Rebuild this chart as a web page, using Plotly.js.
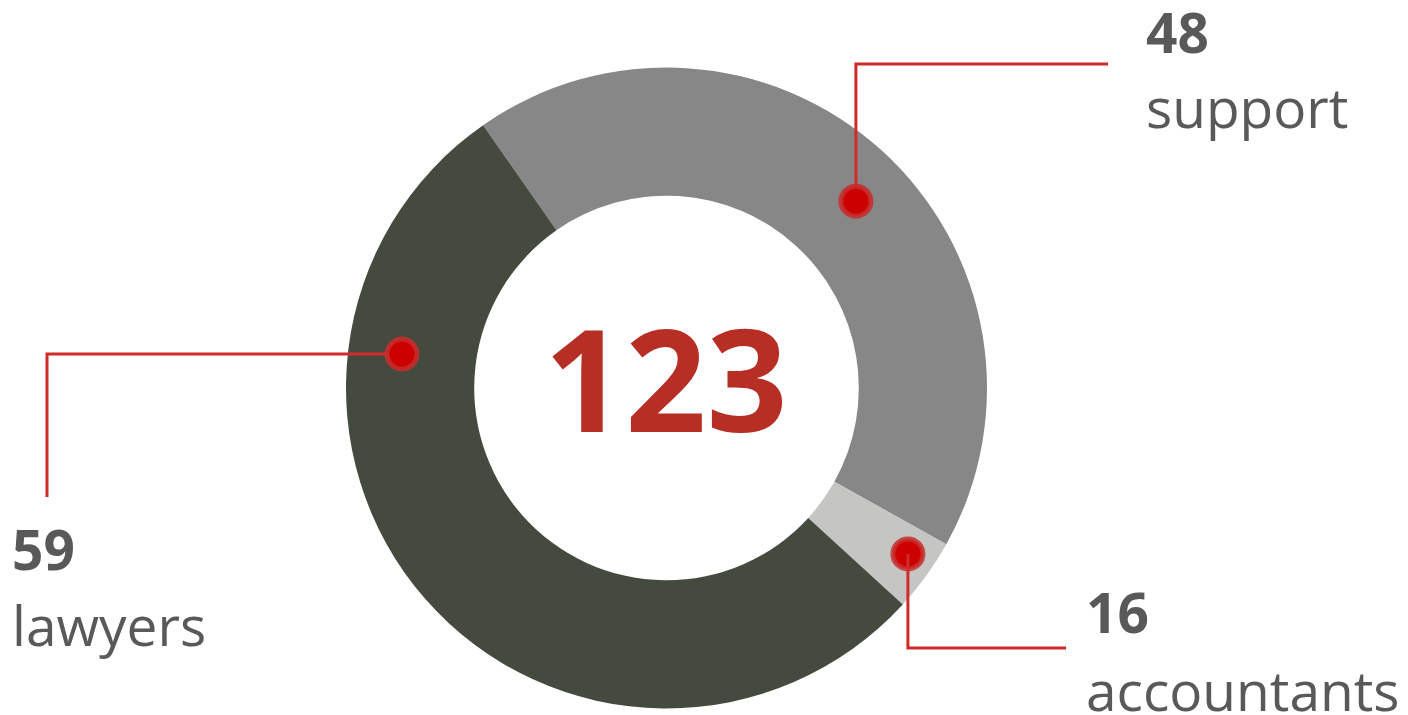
<!DOCTYPE html>
<html><head><meta charset="utf-8">
<script src="https://cdn.plot.ly/plotly-3.0.1.min.js"></script>
<style>html,body{margin:0;padding:0;background:#fff;}#chart{width:1408px;height:715px;}</style>
</head><body><div id="chart"></div>
<script>
// ---- data ----
const categories = ['support', 'accountants', 'lawyers'];
const counts = [48, 16, 59];
// slice sizes as drawn in the picture (percent of the ring)
const sliceShares = [42.8, 3.7, 53.5];
const totalLabel = '123';

// ---- styling / geometry ----
const sliceColors = ['#878787', '#c5c5c3', '#454a3f'];
const W = 1408, H = 715;
const cx = 666.5, cy = 388, R = 320.5;
const holeFrac = 0.6;
const startAngle = -34.9;

// callout dots: angle clockwise from 12 o'clock, radius as a fraction of outer radius
const calloutAngle = [45.4, 124.5, 277.3];
const calloutRadius = [0.83, 0.914, 0.832];
// leader path: first leg direction, first leg target, second leg target
const calloutLeg = [['v', 64, 1108], ['v', 648, 1066], ['h', 47, 497]];
// text block: left x, number baseline, label baseline
const textX = [1148, 1088, 14];
const numBase = [53, 633, 570];
const labBase = [128, 711, 646];

const FONT = 'Open Sans, Noto Sans, sans-serif';
const TXT = '#595959';
const RED = '#d12a2a';
const FS = 55;

const px = x => x / W;
const py = y => 1 - y / H;

const shapes = [];
const annotations = [];

categories.forEach((c, i) => {
  const a = calloutAngle[i] * Math.PI / 180;
  const r = calloutRadius[i] * R;
  const dx = cx + r * Math.sin(a), dy = cy - r * Math.cos(a);
  const leg = calloutLeg[i];
  let p1, p2;
  if (leg[0] === 'v') { p1 = [dx, leg[1]]; p2 = [leg[2], leg[1]]; }
  else { p1 = [leg[1], dy]; p2 = [leg[1], leg[2]]; }
  const path = `M${px(dx)},${py(dy)} L${px(p1[0])},${py(p1[1])} L${px(p2[0])},${py(p2[1])}`;
  const lineShape = {type: 'path', xref: 'paper', yref: 'paper', path: path,
    line: {color: RED, width: 3}, layer: 'above'};
  const circ = {type: 'circle', xref: 'paper', yref: 'paper', xsizemode: 'pixel', ysizemode: 'pixel',
    xanchor: px(dx), yanchor: py(dy), x0: -15, x1: 15, y0: -15, y1: 15,
    fillcolor: '#cc0000', line: {color: 'rgba(200,45,45,0.85)', width: 5}, layer: 'above'};
  if (i === 1) { shapes.push(circ, lineShape); } else { shapes.push(lineShape, circ); }

  annotations.push({xref: 'paper', yref: 'paper', x: px(textX[i] - 4), y: py(numBase[i] - 0.388 * FS),
    xanchor: 'left', yanchor: 'middle', showarrow: false, text: '<b>' + counts[i] + '</b>',
    font: {family: FONT, size: FS, color: TXT}});
  annotations.push({xref: 'paper', yref: 'paper', x: px(textX[i] - 4), y: py(labBase[i] - 0.388 * FS),
    xanchor: 'left', yanchor: 'middle', showarrow: false, text: c,
    font: {family: FONT, size: FS, color: TXT}});
});

const CFS = 142;
annotations.push({xref: 'paper', yref: 'paper', x: px(665.5), y: py(432 - 0.388 * CFS),
  xanchor: 'center', yanchor: 'middle', showarrow: false, text: '<b>' + totalLabel + '</b>',
  font: {family: FONT, size: CFS, color: '#b72e25'}});

const trace = {
  type: 'pie', labels: categories, values: sliceShares, sort: false,
  direction: 'clockwise', rotation: startAngle, hole: holeFrac,
  marker: {colors: sliceColors, line: {width: 0}},
  textinfo: 'none', hoverinfo: 'skip', showlegend: false,
  domain: {x: [px(cx - R), px(cx + R)], y: [py(cy + R), py(cy - R)]}
};

Plotly.newPlot('chart', [trace], {
  width: W, height: H, margin: {l: 0, r: 0, t: 0, b: 0},
  paper_bgcolor: '#ffffff', showlegend: false,
  shapes: shapes, annotations: annotations
}, {staticPlot: true});
</script></body></html>
